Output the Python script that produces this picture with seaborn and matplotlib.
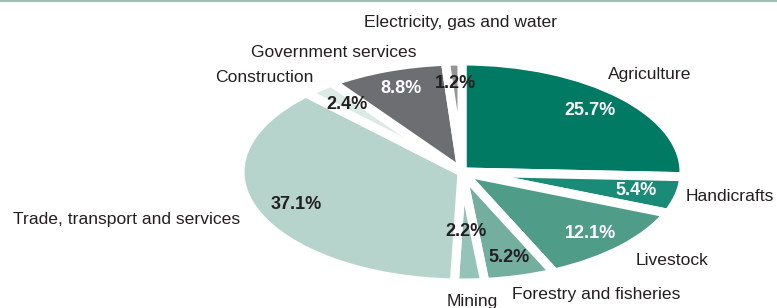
import matplotlib
matplotlib.use("Agg")
import matplotlib.pyplot as plt
from matplotlib.lines import Line2D
import seaborn as sns

# data, clockwise from 12 o'clock
sectors = ["Agriculture", "Handicrafts", "Livestock", "Forestry and fisheries", "Mining",
           "Trade, transport and services", "Construction", "Government services",
           "Electricity, gas and water"]
shares = [25.7, 5.4, 12.1, 5.2, 2.2, 37.1, 2.4, 8.8, 1.2]

colors = ["#007a63", "#1a8b76", "#4f9c89", "#73ae9f", "#95c3b7",
          "#b7d4cc", "#dbeae5", "#6d6e71", "#939598"]
pct_colors = ["white", "white", "white", "#231f20", "#231f20",
              "#231f20", "#231f20", "white", "#231f20"]

# label anchors (data units of the unit pie) and alignment
label_pos = [(0.847, 0.874, "center"), (1.009, -0.225, "left"), (0.784, -0.80, "left"),
             (0.225, -1.108, "left"), (0.045, -1.165, "center"), (-1.0, -0.432, "right"),
             (-0.667, 0.847, "right"), (-0.207, 1.081, "right"), (-0.005, 1.351, "center")]

sns.set_theme(style="white")
plt.rcParams["font.family"] = ["Liberation Sans", "DejaVu Sans"]

fig = plt.figure(figsize=(7.77, 3.08), dpi=100)
ax = fig.add_axes([0, 0, 1, 1])

wedges, texts, autotexts = ax.pie(
    shares, colors=colors, startangle=90, counterclock=False,
    autopct="%.1f%%", pctdistance=0.8,
    wedgeprops={"linewidth": 6.5, "edgecolor": "white", "joinstyle": "round"},
    textprops={"fontsize": 13, "fontweight": "bold"})

for t, v, c in zip(autotexts, shares, pct_colors):
    t.set_text(f"{v:.1f}%")
    t.set_color(c)

# small mining slice: label sits further in
mx, my = autotexts[4].get_position()
autotexts[4].set_position((mx * 0.54 / 0.8, my * 0.54 / 0.8))

for name, (x, y, ha) in zip(sectors, label_pos):
    ax.text(x, y, name, ha=ha, va="center", fontsize=12.6, color="#231f20")

# elliptical look: stretch the unit pie
ax.set_aspect("auto")
ax.set_xlim(-462 / 222, (777 - 462) / 222)
ax.set_ylim(-(308 - 172) / 111, 172 / 111)
ax.axis("off")

fig.add_artist(Line2D([0, 1], [0.997, 0.997], transform=fig.transFigure,
                      color="#9dbdb5", linewidth=1.5))

fig.savefig("out.png", dpi=100)
